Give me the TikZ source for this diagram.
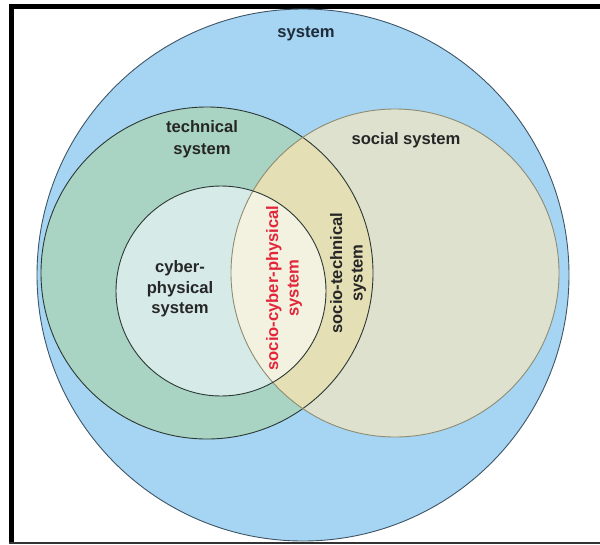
\documentclass[tikz,border=0pt]{standalone}
\usepackage{fontspec}
\setmainfont{Liberation Sans}
\usepackage[HTML]{xcolor}
\usetikzlibrary{positioning}

\definecolor{sysblue}{HTML}{A6D5F3}
\definecolor{techgreen}{HTML}{A9D4C4}
\definecolor{socialbeige}{HTML}{DEE1CE}
\definecolor{stkhaki}{HTML}{E4DFB4}
\definecolor{cyberpale}{HTML}{D6EBE8}
\definecolor{scpcream}{HTML}{F3F1E0}
\definecolor{sysline}{HTML}{3E5566}
\definecolor{darkline}{HTML}{2B3833}
\definecolor{socline}{HTML}{8E8C72}
\definecolor{scpred}{HTML}{E2273B}
\definecolor{systext}{HTML}{1E2B38}

\tikzset{
  vlabel/.style={font=\bfseries\fontsize{16.6}{20.5}\selectfont, align=center, text=black!85, inner sep=0pt},
}

\begin{document}
\begin{tikzpicture}[x=1pt, y=-1pt]
\useasboundingbox (0,0) rectangle (600,544);

% --- frame ---
\fill[black] (9,4) rectangle (600,9);
\fill[black] (9,4) rectangle (14,544);
\draw[black!80, line width=1.2pt] (9,543) -- (600,543);

% --- fills ---
\fill[sysblue] (303,275) circle (266pt);
\fill[techgreen] (207,273) circle (166pt);
\fill[socialbeige] (395,273) circle (164pt);
\begin{scope}
\clip (207,273) circle (166pt);
\fill[stkhaki] (395,273) circle (164pt);
\end{scope}
\fill[cyberpale] (221,291) circle (105pt);
\begin{scope}
\clip (221,291) circle (105pt);
\fill[scpcream] (395,273) circle (164pt);
\end{scope}

% --- outlines ---
\draw[sysline, line width=0.9pt] (303,275) circle (266pt);
\draw[darkline, line width=0.9pt] (207,273) circle (166pt);
\draw[socline, line width=0.9pt] (395,273) circle (164pt);
\draw[darkline, line width=0.9pt] (221,291) circle (105pt);

% --- labels ---
\node[vlabel, text=systext] (sys) at (306,34) {system};
\node[vlabel, align=center] (tech) at (202,139) {technical\\[1.5pt]system};
\node[vlabel] (social) at (406,140) {social system};
\node[vlabel] (cps) at (180,289) {cyber-\\physical\\system};
\node[vlabel, text=scpred, rotate=90] (scps) at (284,288) {socio-cyber-physical\\system};
\node[vlabel, rotate=90] (sts) at (348,273) {socio-technical\\system};
\end{tikzpicture}
\end{document}
